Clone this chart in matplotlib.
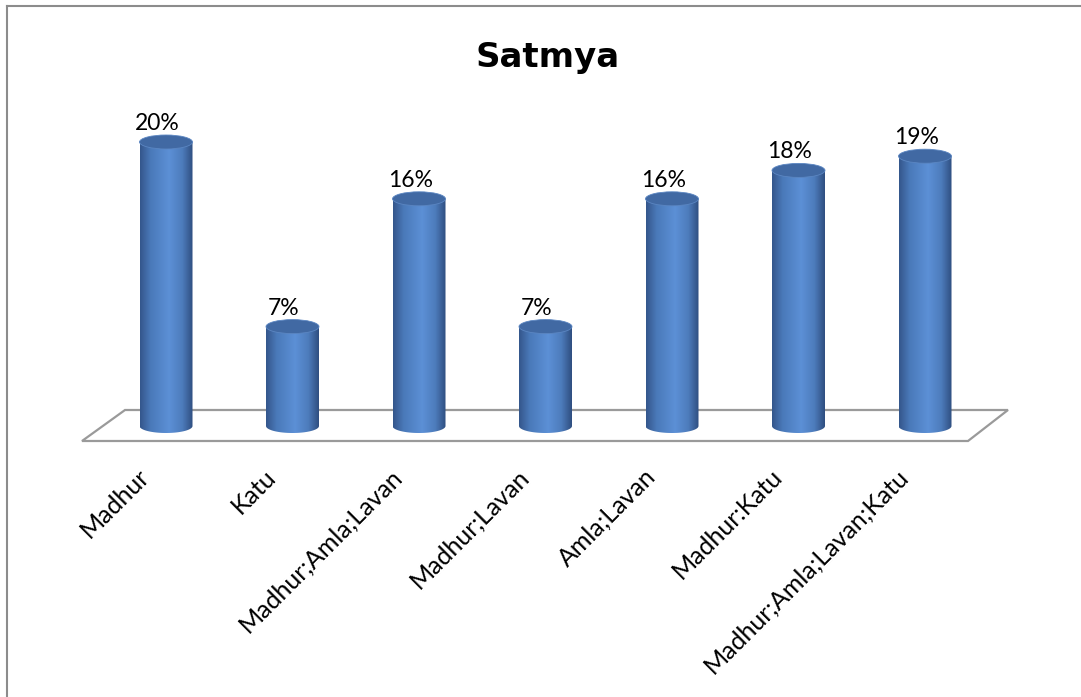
import numpy as np
import matplotlib
matplotlib.use("Agg")
import matplotlib.pyplot as plt
from matplotlib.path import Path
from matplotlib.patches import PathPatch, Ellipse, Polygon
from matplotlib.lines import Line2D
from matplotlib.colors import LinearSegmentedColormap

# ---- data ----
categories = ["Madhur", "Katu", "Madhur;Amla;Lavan", "Madhur;Lavan",
              "Amla;Lavan", "Madhur:Katu", "Madhur;Amla;Lavan;Katu"]
values = [20, 7, 16, 7, 16, 18, 19]
value_labels = ["20%", "7%", "16%", "7%", "16%", "18%", "19%"]
title = "Satmya"

# ---- figure ----
W, H, DPI = 1081, 697, 100
fig = plt.figure(figsize=(W / DPI, H / DPI), dpi=DPI)
ax = fig.add_axes([0, 0, 1, 1])
ax.set_axis_off()

# scale: category spacing 126.5 px, 14.2 px per percent
px_per_cat = 126.5
px_per_val = 14.2
x0_px, y0_px = 166, 426
xlim = (-x0_px / px_per_cat, (W - x0_px) / px_per_cat)
ylim = ((y0_px - H) / px_per_val, y0_px / px_per_val)

n = len(categories)
bar_w = 53 / px_per_cat
ell_h = 14 / px_per_val

# floor (3D plane)
floor = Polygon([(-0.324, 1.127), (n - 1 + 0.656, 1.127),
                 (n - 1 + 0.34, -1.056), (-0.664, -1.056)],
                closed=True, facecolor="white", edgecolor="#9a9a9a",
                linewidth=1.6, zorder=1)
ax.add_patch(floor)

cmap = LinearSegmentedColormap.from_list(
    "cyl", [(0.0, "#34568b"), (0.2, "#4a79b9"), (0.55, "#5c90d6"),
            (0.8, "#4d7cbc"), (1.0, "#2f4e80")])
grad = cmap(np.linspace(0, 1, 256))[None, :, :3]

t_bot = np.linspace(np.pi, 2 * np.pi, 60)
for i, v in enumerate(values):
    a = bar_w / 2
    b = ell_h / 2
    xs = [i - a, i - a]
    ys = [v, 0]
    xs += list(i + a * np.cos(t_bot))
    ys += list(0 + b * np.sin(t_bot))
    xs += [i + a, i + a]
    ys += [0, v]
    verts = list(zip(xs, ys)) + [(i - a, v)]
    codes = [Path.MOVETO] + [Path.LINETO] * (len(verts) - 2) + [Path.CLOSEPOLY]
    body = PathPatch(Path(verts, codes), facecolor="none", edgecolor="none",
                     transform=ax.transData, zorder=2)
    ax.add_patch(body)
    im = ax.imshow(grad, extent=[i - a, i + a, -b, v], aspect="auto",
                   interpolation="bilinear", zorder=2)
    im.set_clip_path(body)
    top = Ellipse((i, v), bar_w, ell_h, angle=0, facecolor="#4169a3",
                  edgecolor="#5b86c2", linewidth=0.6, zorder=3)
    ax.add_patch(top)
    ax.text(i - 0.07, v + 0.85, value_labels[i], ha="center", va="baseline",
            fontsize=16.5, family="Lato", color="black", zorder=4)

for i, c in enumerate(categories):
    ax.text(i - 0.16, -3.3, c, rotation=45, rotation_mode="anchor",
            ha="right", va="center", fontsize=18, family="Lato",
            color="black")

ax.set_xlim(*xlim)
ax.set_ylim(*ylim)

fig.text(548 / W, 1 - 67 / H, title, ha="center", va="baseline",
         fontsize=24.5, fontweight="bold", family="DejaVu Sans")

# chart area border (left and top)
fig.add_artist(Line2D([7 / W, 7 / W], [0, 1 - 6 / H], transform=fig.transFigure,
                      color="#8c8c8c", linewidth=1.5))
fig.add_artist(Line2D([7 / W, 1], [1 - 6 / H, 1 - 6 / H], transform=fig.transFigure,
                      color="#8c8c8c", linewidth=1.5))

fig.savefig("out.png", dpi=DPI)
